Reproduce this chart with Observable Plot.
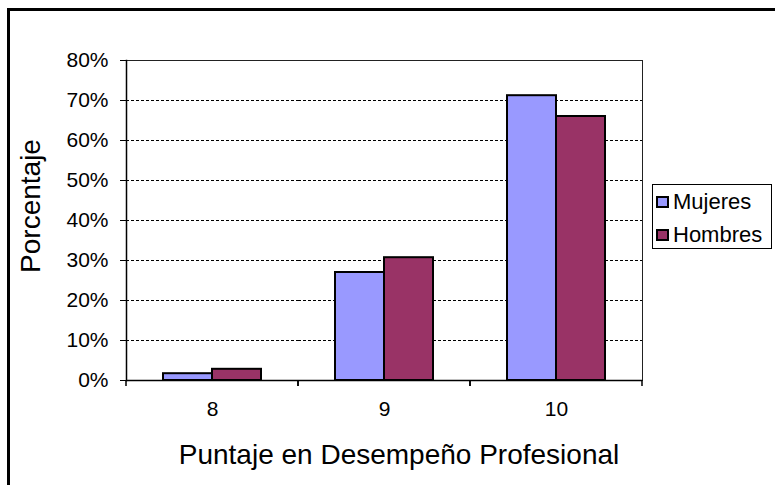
<!DOCTYPE html>
<html>
<head>
<meta charset="utf-8">
<script src="https://cdn.jsdelivr.net/npm/d3@7"></script>
<script src="https://cdn.jsdelivr.net/npm/@observablehq/plot@0.6"></script>
<style>
  body { margin: 0; background: white; }
  #wrap { position: relative; width: 775px; height: 485px; overflow: hidden; background: white;
          font-family: "Liberation Sans", Arial, sans-serif; color: black; }
  #border { position: absolute; left: 7px; top: 8px; width: 900px; height: 600px;
            border-left: 3px solid #000; border-top: 3px solid #000; }
  #chart { position: absolute; left: 0; top: 0; }
  #ytitle { position: absolute; left: 31px; top: 206px; font-size: 28px; line-height: 28px;
            white-space: nowrap; transform: translate(-50%, -50%) rotate(-90deg); }
  #xtitle { position: absolute; left: 399px; top: 441px; font-size: 28px; line-height: 28px;
            white-space: nowrap; transform: translateX(-50%); }
  #legend { position: absolute; left: 652px; top: 184px; width: 115px; height: 63px;
            border: 1px solid #000; background: white; font-size: 22px; line-height: 33px;
            padding-left: 3px; box-sizing: content-box; overflow: hidden; }
  #legend .item { white-space: nowrap; }
  #legend .sw { display: inline-block; width: 13px; height: 12px; border: 2px solid #000;
                box-sizing: border-box; margin-right: 4px; margin-bottom: 1px; vertical-align: baseline; }
</style>
</head>
<body>
<div id="wrap">
  <div id="border"></div>
  <div id="chart"></div>
  <div id="ytitle">Porcentaje</div>
  <div id="xtitle">Puntaje en Desempeño Profesional</div>
  <div id="legend"></div>
</div>
<script>
// Data
const scores = [8, 9, 10];
const series = ["Mujeres", "Hombres"];
const mujeres = [1.7, 27, 71.2];
const hombres = [2.8, 30.7, 66];
const yTicks = [0, 10, 20, 30, 40, 50, 60, 70, 80];
const gridTicks = [10, 20, 30, 40, 50, 60, 70];
const colors = ["#9999FF", "#993366"];

const data = scores.flatMap((s, i) => [
  {score: s, sex: series[0], value: mujeres[i]},
  {score: s, sex: series[1], value: hombres[i]}
]);

// small tick marks at category boundaries, derived from the facet's x scale range
function boundaryTicks(index, scales, values, dimensions) {
  const [x0, x1] = scales.x.range();
  const y0 = scales.y(0);
  const path = document.createElementNS("http://www.w3.org/2000/svg", "path");
  path.setAttribute("d", `M${x0},${y0}v6M${x1},${y0}v6`);
  path.setAttribute("stroke", "black");
  path.setAttribute("stroke-width", "1.5");
  return path;
}

const chart = Plot.plot({
  width: 775,
  height: 485,
  marginLeft: 125,
  marginRight: 133,
  marginTop: 60,
  marginBottom: 105,
  style: {background: "transparent", fontFamily: "Liberation Sans, Arial, sans-serif", color: "black"},
  fx: {domain: scores, padding: 0, label: null},
  x: {domain: series, paddingInner: 0, paddingOuter: 0.75, axis: null},
  y: {domain: [0, 80]},
  color: {domain: series, range: colors},
  marks: [
    Plot.gridY(gridTicks, {stroke: "black", strokeOpacity: 1, strokeDasharray: "3,2"}),
    Plot.barY(data, {fx: "score", x: "sex", y: "value", fill: "sex", stroke: "black", strokeWidth: 2}),
    Plot.ruleY([0], {stroke: "black", strokeWidth: 1.5}),
    Plot.ruleY([80], {stroke: "#222"}),
    Plot.frame({anchor: "left", facetAnchor: "left", stroke: "black", strokeWidth: 1.5}),
    Plot.frame({anchor: "right", facetAnchor: "right", stroke: "#222"}),
    Plot.axisY(yTicks, {tickFormat: d => d + "%", fontSize: 21, tickSize: 6, tickPadding: 12, label: null}),
    Plot.axisFx({anchor: "bottom", tickSize: 0, tickPadding: 21, fontSize: 21, label: null}),
    boundaryTicks
  ]
});
document.getElementById("chart").appendChild(chart);

// legend
const legend = document.getElementById("legend");
series.forEach((name, i) => {
  const item = document.createElement("div");
  item.className = "item";
  const sw = document.createElement("span");
  sw.className = "sw";
  sw.style.background = colors[i];
  item.appendChild(sw);
  item.appendChild(document.createTextNode(name));
  legend.appendChild(item);
});
</script>
</body>
</html>
